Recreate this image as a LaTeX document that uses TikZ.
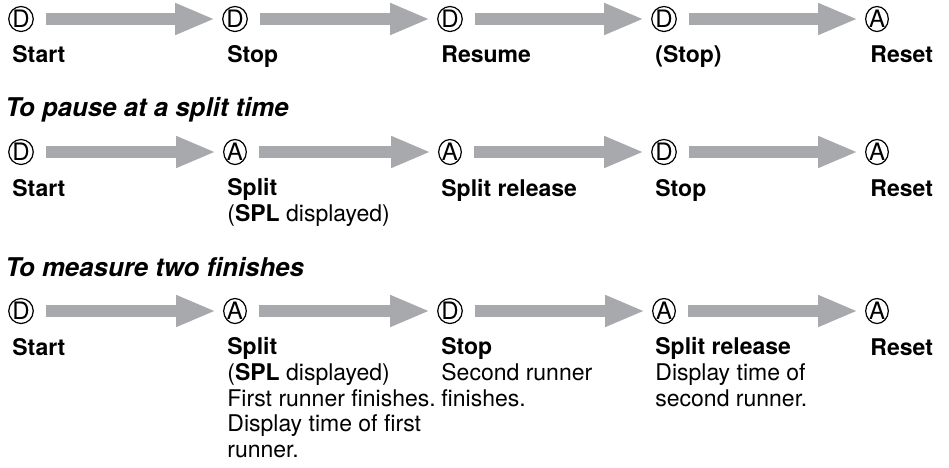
\documentclass[tikz,border=0pt]{standalone}
\usepackage{fontspec}
\setmainfont{TeX Gyre Heros}
\usetikzlibrary{arrows.meta,shapes.geometric}
\definecolor{flowgrey}{RGB}{167,169,172}
\tikzset{
  key/.style = {ellipse, draw=black, line width=0.6pt, inner sep=0pt, minimum width=11pt, minimum height=12.5pt, font=\fontsize{12}{12}\selectfont},
  steptext/.style = {anchor=north west, align=left, inner sep=0pt, font=\fontsize{11.5}{12.9}\selectfont, execute at begin node=\strut},
  heading/.style = {anchor=base west, inner sep=0pt, font=\fontsize{12.9}{14}\selectfont\bfseries\itshape},
  flow/.style = {draw=flowgrey, line width=6pt, -{Triangle[length=20pt, width=14.5pt]}, shorten <=6pt, shorten >=3.5pt},
}
\begin{document}
\begin{tikzpicture}[x=0.5pt, y=-0.5pt]
\useasboundingbox (0,0) rectangle (949,467);
% first row
\node [key] (a1) at (21,19) {D};
\node [key] (a2) at (235,19) {D};
\node [key] (a3) at (450,19) {D};
\node [key] (a4) at (664,19) {D};
\node [key] (a5) at (877,19) {A};
\node [steptext] (ta1) at (12,44) {\textbf{Start}};
\node [steptext] (ta2) at (227,44) {\textbf{Stop}};
\node [steptext] (ta3) at (441,44) {\textbf{Resume}};
\node [steptext] (ta4) at (655,44) {\textbf{(Stop)}};
\node [steptext] (ta5) at (870,44) {\textbf{Reset}};
% second row
\node [heading] (hb) at (5,116) {To pause at a split time};
\node [key] (b1) at (21,152) {D};
\node [key] (b2) at (235,152) {A};
\node [key] (b3) at (450,152) {A};
\node [key] (b4) at (664,152) {D};
\node [key] (b5) at (877,152) {A};
\node [steptext] (tb1) at (12,178) {\textbf{Start}};
\node [steptext] (tb2) at (227,178) {\textbf{Split}\\(\textbf{SPL} displayed)};
\node [steptext] (tb3) at (441,178) {\textbf{Split release}};
\node [steptext] (tb4) at (655,178) {\textbf{Stop}};
\node [steptext] (tb5) at (870,178) {\textbf{Reset}};
% third row
\node [heading] (hc) at (5,276) {To measure two finishes};
\node [key] (c1) at (21,311) {D};
\node [key] (c2) at (235,311) {A};
\node [key] (c3) at (450,311) {D};
\node [key] (c4) at (664,311) {A};
\node [key] (c5) at (877,311) {A};
\node [steptext] (tc1) at (12,337) {\textbf{Start}};
\node [steptext] (tc2) at (227,337) {\textbf{Split}\\(\textbf{SPL} displayed)\\First runner finishes.\\Display time of first\\runner.};
\node [steptext] (tc3) at (441,337) {\textbf{Stop}\\Second runner\\finishes.};
\node [steptext] (tc4) at (655,337) {\textbf{Split release}\\Display time of\\second runner.};
\node [steptext] (tc5) at (870,337) {\textbf{Reset}};
\foreach \r in {a,b,c}{
  \draw [flow] (\r1) -- (\r2);
  \draw [flow] (\r2) -- (\r3);
  \draw [flow] (\r3) -- (\r4);
  \draw [flow] (\r4) -- (\r5);
}
\end{tikzpicture}
\end{document}
